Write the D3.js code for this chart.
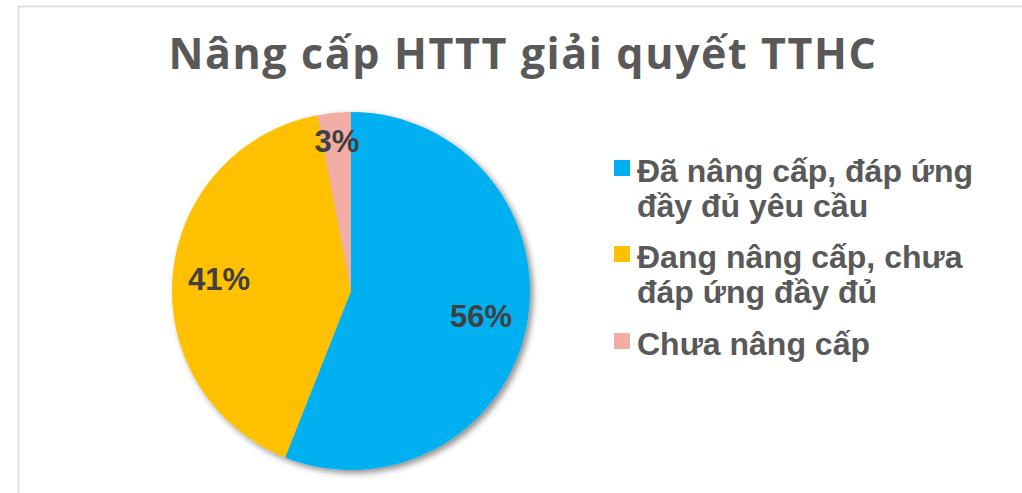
<!DOCTYPE html>
<html><head><meta charset="utf-8">
<script src="https://cdn.jsdelivr.net/npm/d3@7"></script>
<style>html,body{margin:0;padding:0;background:#fff;overflow:hidden}</style>
</head><body>
<svg id="c" width="1022" height="493"></svg>
<script>
const title = "Nâng cấp HTTT giải quyết TTHC";
const categories = ["Đã nâng cấp, đáp ứng đầy đủ yêu cầu", "Đang nâng cấp, chưa đáp ứng đầy đủ", "Chưa nâng cấp"];
const legendLines = [["Đã nâng cấp, đáp ứng", "đầy đủ yêu cầu"], ["Đang nâng cấp, chưa", "đáp ứng đầy đủ"], ["Chưa nâng cấp"]];
const values = [56, 41, 3];
const colors = ["#00B0F0", "#FFC000", "#F2ADA4"];

const svg = d3.select("#c");
const W = 1022, H = 493;
svg.append("rect").attr("x", 0).attr("y", 0).attr("width", W).attr("height", H).attr("fill", "#fff");
svg.append("rect").attr("x", 18.5).attr("y", 6.5).attr("width", W + 20).attr("height", H + 20)
  .attr("fill", "none").attr("stroke", "#D9D9D9").attr("stroke-width", 1.5);

const defs = svg.append("defs");
const f = defs.append("filter").attr("id", "sh").attr("x", "-20%").attr("y", "-20%").attr("width", "140%").attr("height", "140%");
f.append("feDropShadow").attr("dx", 3).attr("dy", 3).attr("stdDeviation", 3)
  .attr("flood-color", "#000").attr("flood-opacity", 0.45);

svg.append("text").attr("x", 523).attr("y", 69).attr("text-anchor", "middle")
  .attr("font-family", "Open Sans, sans-serif").attr("font-weight", 700).attr("font-size", 43)
  .attr("letter-spacing", 1.6)
  .attr("fill", "#595959").text(title);

const cx = 351, cy = 291, R = 179;
const pie = d3.pie().sort(null).value(d => d);
const arcs = pie(values);
const total = d3.sum(values);
const arc = d3.arc().innerRadius(0).outerRadius(R);
const g = svg.append("g").attr("transform", `translate(${cx},${cy})`);
const pg = g.append("g").attr("filter", "url(#sh)");
pg.selectAll("path").data(arcs).join("path").attr("d", arc).attr("fill", (d, i) => colors[i]);

const labelArc = d3.arc().innerRadius(R * 0.74).outerRadius(R * 0.74);
const smallArc = d3.arc().innerRadius(R * 0.84).outerRadius(R * 0.84);
g.selectAll("text.lbl").data(arcs).join("text").attr("class", "lbl")
  .attr("transform", d => {
    const c = (d.value / total < 0.05 ? smallArc : labelArc).centroid(d);
    return `translate(${c[0]},${c[1]})`;
  })
  .attr("dy", "0.36em").attr("text-anchor", "middle")
  .attr("font-family", "Liberation Sans, Arial, sans-serif").attr("font-weight", 700).attr("font-size", 31)
  .attr("fill", "#404040")
  .text(d => Math.round(d.value / total * 100) + "%");

const lg = svg.append("g");
const itemY = [182, 268, 355];
const lineH = 35;
legendLines.forEach((lines, i) => {
  lg.append("rect").attr("x", 614).attr("y", itemY[i] - 22).attr("width", 16).attr("height", 16).attr("fill", colors[i]);
  const t = lg.append("text").attr("x", 637).attr("y", itemY[i])
    .attr("font-family", "Liberation Sans, Arial, sans-serif").attr("font-weight", 700).attr("font-size", 32)
    .attr("fill", "#595959");
  lines.forEach((l, j) => t.append("tspan").attr("x", 637).attr("y", itemY[i] + j * lineH).text(l));
});
</script>
</body></html>
